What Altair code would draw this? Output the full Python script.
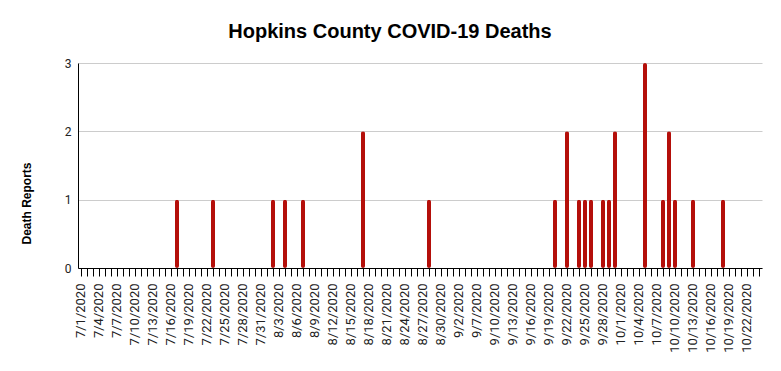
import altair as alt
import pandas as pd

# All date categories on the x axis (9/5 and 9/6 are absent in the source)
dates = [
    "7/1/2020", "7/2/2020", "7/3/2020", "7/4/2020", "7/5/2020", "7/6/2020", "7/7/2020", "7/8/2020",
    "7/9/2020", "7/10/2020", "7/11/2020", "7/12/2020", "7/13/2020", "7/14/2020", "7/15/2020", "7/16/2020",
    "7/17/2020", "7/18/2020", "7/19/2020", "7/20/2020", "7/21/2020", "7/22/2020", "7/23/2020", "7/24/2020",
    "7/25/2020", "7/26/2020", "7/27/2020", "7/28/2020", "7/29/2020", "7/30/2020", "7/31/2020",
    "8/1/2020", "8/2/2020", "8/3/2020", "8/4/2020", "8/5/2020", "8/6/2020", "8/7/2020", "8/8/2020",
    "8/9/2020", "8/10/2020", "8/11/2020", "8/12/2020", "8/13/2020", "8/14/2020", "8/15/2020", "8/16/2020",
    "8/17/2020", "8/18/2020", "8/19/2020", "8/20/2020", "8/21/2020", "8/22/2020", "8/23/2020", "8/24/2020",
    "8/25/2020", "8/26/2020", "8/27/2020", "8/28/2020", "8/29/2020", "8/30/2020", "8/31/2020",
    "9/1/2020", "9/2/2020", "9/3/2020", "9/4/2020", "9/7/2020", "9/8/2020", "9/9/2020", "9/10/2020",
    "9/11/2020", "9/12/2020", "9/13/2020", "9/14/2020", "9/15/2020", "9/16/2020", "9/17/2020", "9/18/2020",
    "9/19/2020", "9/20/2020", "9/21/2020", "9/22/2020", "9/23/2020", "9/24/2020", "9/25/2020", "9/26/2020",
    "9/27/2020", "9/28/2020", "9/29/2020", "9/30/2020",
    "10/1/2020", "10/2/2020", "10/3/2020", "10/4/2020", "10/5/2020", "10/6/2020", "10/7/2020", "10/8/2020",
    "10/9/2020", "10/10/2020", "10/11/2020", "10/12/2020", "10/13/2020", "10/14/2020", "10/15/2020",
    "10/16/2020", "10/17/2020", "10/18/2020", "10/19/2020", "10/20/2020", "10/21/2020", "10/22/2020",
    "10/23/2020", "10/24/2020",
]

# Labelled ticks (every third category)
label_dates = [
    "7/1/2020", "7/4/2020", "7/7/2020", "7/10/2020", "7/13/2020", "7/16/2020", "7/19/2020", "7/22/2020",
    "7/25/2020", "7/28/2020", "7/31/2020", "8/3/2020", "8/6/2020", "8/9/2020", "8/12/2020", "8/15/2020",
    "8/18/2020", "8/21/2020", "8/24/2020", "8/27/2020", "8/30/2020", "9/2/2020", "9/7/2020", "9/10/2020",
    "9/13/2020", "9/16/2020", "9/19/2020", "9/22/2020", "9/25/2020", "9/28/2020", "10/1/2020", "10/4/2020",
    "10/7/2020", "10/10/2020", "10/13/2020", "10/16/2020", "10/19/2020", "10/22/2020",
]

# Days with reported deaths
death_dates = [
    "7/17/2020", "7/23/2020", "8/2/2020", "8/4/2020", "8/7/2020", "8/17/2020", "8/28/2020",
    "9/20/2020", "9/22/2020", "9/24/2020", "9/25/2020", "9/26/2020", "9/28/2020", "9/29/2020",
    "9/30/2020", "10/5/2020", "10/8/2020", "10/9/2020", "10/10/2020", "10/13/2020", "10/18/2020",
]
death_counts = [1, 1, 1, 1, 1, 2, 1, 1, 2, 1, 1, 1, 1, 1, 2, 3, 1, 2, 1, 1, 1]

df = pd.DataFrame({"date": death_dates, "deaths": death_counts})

label_list = "[" + ",".join("'" + d + "'" for d in label_dates) + "]"

chart = alt.Chart(df).mark_bar(
    size=4, color="#b40f0a", cornerRadius=2
).encode(
    x=alt.X(
        "date:N",
        sort=dates,
        scale=alt.Scale(domain=dates, paddingInner=0, paddingOuter=0),
        axis=alt.Axis(
            title=None,
            labelAngle=-90,
            labelAlign="right",
            labelBaseline="middle",
            labelExpr=f"indexof({label_list}, datum.value) >= 0 ? datum.label : ''",
            labelOverlap=False,
            labelFont="Roboto",
            labelFontSize=13,
            labelColor="#222222",
            labelPadding=7,
            tickSize=8,
            tickColor="#000000",
            domainColor="#000000",
            grid=False,
        ),
    ),
    y=alt.Y(
        "deaths:Q",
        scale=alt.Scale(domain=[0, 3]),
        axis=alt.Axis(
            title="Death Reports",
            titleFont="Liberation Sans",
            titleFontSize=12,
            titleFontWeight="bold",
            titleColor="#000000",
            titlePadding=31,
            titleY=140,
            values=[0, 1, 2, 3],
            labelFont="Roboto",
            labelFontSize=12,
            labelColor="#222222",
            labelPadding=7,
            tickSize=0,
            domainColor="#000000",
            gridColor="#cccccc",
        ),
    ),
).properties(
    width=684,
    height=205,
    title=alt.TitleParams(
        "Hopkins County COVID-19 Deaths",
        font="Liberation Sans",
        fontSize=20,
        fontWeight="bold",
        color="#000000",
        anchor="middle",
        dx=-30,
        offset=15,
    ),
    padding={"left": 70, "top": 55, "right": 11, "bottom": 95},
    autosize=alt.AutoSizeParams(type="none"),
).configure_view(stroke=None)

chart.save("out.html", embed_options={"renderer": "svg", "actions": False})
